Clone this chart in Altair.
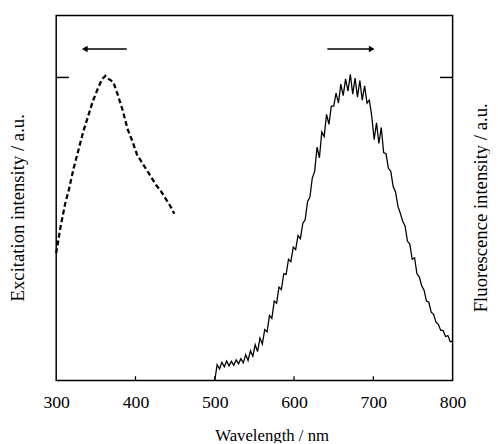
import altair as alt
import pandas as pd

# Excitation spectrum (dashed), wavelength nm / relative intensity
exc_wl = [300, 305, 311, 316, 322, 328, 334, 340, 346, 352, 358, 362, 366, 372, 378, 384, 390, 396, 402, 408, 414, 420, 426, 432, 438, 444, 449]
exc_v = [0.42, 0.50, 0.58, 0.63, 0.70, 0.76, 0.82, 0.87, 0.92, 0.96, 0.995, 1.005, 0.995, 0.985, 0.94, 0.89, 0.83, 0.79, 0.745, 0.72, 0.695, 0.67, 0.645, 0.625, 0.60, 0.575, 0.55]

# Fluorescence spectrum (solid, noisy)
flu_wl = [500, 503, 506, 509, 512, 515, 518, 521, 524, 527, 530, 533, 536, 539, 542, 545, 548, 551, 554, 557,
          560, 563, 566, 569, 572, 575, 578, 581, 584, 587, 590, 593, 596, 599, 602, 605, 608, 611, 614, 617,
          620, 623, 626, 629, 632, 635, 638, 641, 644, 647, 650, 653, 656, 659, 662, 665, 668, 671, 674, 677,
          680, 683, 686, 689, 692, 695, 698, 701, 704, 707, 710, 713, 716, 719, 722, 725, 728, 731, 734, 737,
          740, 743, 746, 749, 752, 755, 758, 761, 764, 767, 770, 773, 776, 779, 782, 785, 788, 791, 794, 797, 800]
flu_v = [0.000, 0.052, 0.038, 0.060, 0.045, 0.064, 0.048, 0.063, 0.050, 0.068, 0.055, 0.072, 0.058, 0.085, 0.066, 0.098, 0.080, 0.118, 0.095, 0.140,
         0.120, 0.168, 0.160, 0.215, 0.205, 0.262, 0.255, 0.308, 0.300, 0.352, 0.350, 0.400, 0.392, 0.440, 0.432, 0.478, 0.468, 0.518, 0.530, 0.590,
         0.605, 0.668, 0.690, 0.770, 0.735, 0.820, 0.805, 0.878, 0.845, 0.905, 0.905, 0.948, 0.915, 0.978, 0.940, 0.995, 0.955, 1.010, 0.945, 0.998,
         0.935, 0.990, 0.925, 0.972, 0.915, 0.925, 0.872, 0.795, 0.850, 0.782, 0.835, 0.752, 0.748, 0.700, 0.690, 0.640, 0.622, 0.575, 0.552, 0.525,
         0.510, 0.460, 0.450, 0.400, 0.405, 0.352, 0.342, 0.312, 0.298, 0.262, 0.258, 0.225, 0.218, 0.192, 0.185, 0.165, 0.165, 0.145, 0.148, 0.128, 0.130]

x_labels = [300, 400, 500, 600, 700, 800]
x_inner_ticks = [400, 500, 600, 700]
y_tick_value = [1.0]
arrow_y = 1.094
arrow_left = [332, 389]
arrow_right = [642, 702]

FONT = "Liberation Serif"
xs = alt.Scale(domain=[300, 800], nice=False, zero=False)
ys = alt.Scale(domain=[0, 1.2045], nice=False, zero=False)

exc = pd.DataFrame({"wl": exc_wl, "v": exc_v})
flu = pd.DataFrame({"wl": flu_wl, "v": flu_v})

xaxis = alt.Axis(values=x_labels, title="Wavelength / nm", labelFont=FONT, labelFontSize=18,
                 labelColor="black", ticks=False, domain=False, grid=False, labelPadding=14,
                 labelFlush=False, labelOverlap=False, labelBound=False,
                 titleFont=FONT, titleFontSize=17, titleFontWeight="normal", titleColor="black",
                 titleX=219, titleY=61, titleBaseline="alphabetic", titleAlign="center")

exc_line = alt.Chart(exc).mark_line(color="black", strokeWidth=2.3, strokeDash=[5, 3]).encode(
    x=alt.X("wl:Q", scale=xs, axis=xaxis),
    y=alt.Y("v:Q", scale=ys, axis=alt.Axis(orient="left", title="Excitation intensity / a.u.",
            labels=False, ticks=False, domain=False, grid=False, titleFont=FONT, titleFontSize=19,
            titleFontWeight="normal", titleColor="black", titleAngle=270, titleX=-39, titleY=195,
            titleAlign="center", titleBaseline="middle")),
)

flu_line = alt.Chart(flu).mark_line(color="black", strokeWidth=1.3).encode(
    x=alt.X("wl:Q", scale=xs, axis=xaxis),
    y=alt.Y("v:Q", scale=ys, axis=alt.Axis(orient="right", title="Fluorescence intensity / a.u.",
            labels=False, ticks=False, domain=False, grid=False, titleFont=FONT, titleFontSize=19,
            titleFontWeight="normal", titleColor="black", titleAngle=270, titleX=28, titleY=195,
            titleAlign="center", titleBaseline="middle")),
)

# inward ticks
xt = pd.DataFrame({"wl": x_inner_ticks, "y0": [0] * len(x_inner_ticks), "y1": [0.014] * len(x_inner_ticks)})
xtick = alt.Chart(xt).mark_rule(color="black", strokeWidth=1.3).encode(
    x=alt.X("wl:Q", scale=xs, axis=xaxis), y=alt.Y("y0:Q", scale=ys, axis=None), y2="y1:Q")
yt = pd.DataFrame({"x0": [300, 784], "x1": [316, 800], "v": y_tick_value * 2})
ytick = alt.Chart(yt).mark_rule(color="black", strokeWidth=1.5).encode(
    x=alt.X("x0:Q", scale=xs, axis=xaxis), x2="x1:Q", y=alt.Y("v:Q", scale=ys, axis=None))

# arrows
ar = pd.DataFrame({"x0": [arrow_left[0] + 3, arrow_right[0]], "x1": [arrow_left[1], arrow_right[1] - 3],
                   "v": [arrow_y, arrow_y]})
arrow_lines = alt.Chart(ar).mark_rule(color="black", strokeWidth=1.5).encode(
    x=alt.X("x0:Q", scale=xs, axis=xaxis), x2="x1:Q", y=alt.Y("v:Q", scale=ys, axis=None))
heads = pd.DataFrame({"wl": [arrow_left[0] + 4, arrow_right[1] - 4], "v": [arrow_y, arrow_y],
                      "shape": ["triangle-left", "triangle-right"]})
arrow_heads = alt.Chart(heads).mark_point(filled=True, color="black", opacity=1, size=45).encode(
    x=alt.X("wl:Q", scale=xs, axis=xaxis), y=alt.Y("v:Q", scale=ys, axis=None),
    shape=alt.Shape("shape:N", scale=None, legend=None))

chart = alt.layer(exc_line, flu_line, xtick, ytick, arrow_lines, arrow_heads).resolve_axis(
    y="independent").properties(
    width=403, height=371,
    autosize=alt.AutoSizeParams(type="none"),
    padding={"left": 49, "top": 4, "right": 38, "bottom": 60},
).configure(background="white", view=alt.ViewConfig(stroke="black", strokeWidth=1.5))

chart.save("out.html", embed_options={"renderer": "svg", "actions": False})
